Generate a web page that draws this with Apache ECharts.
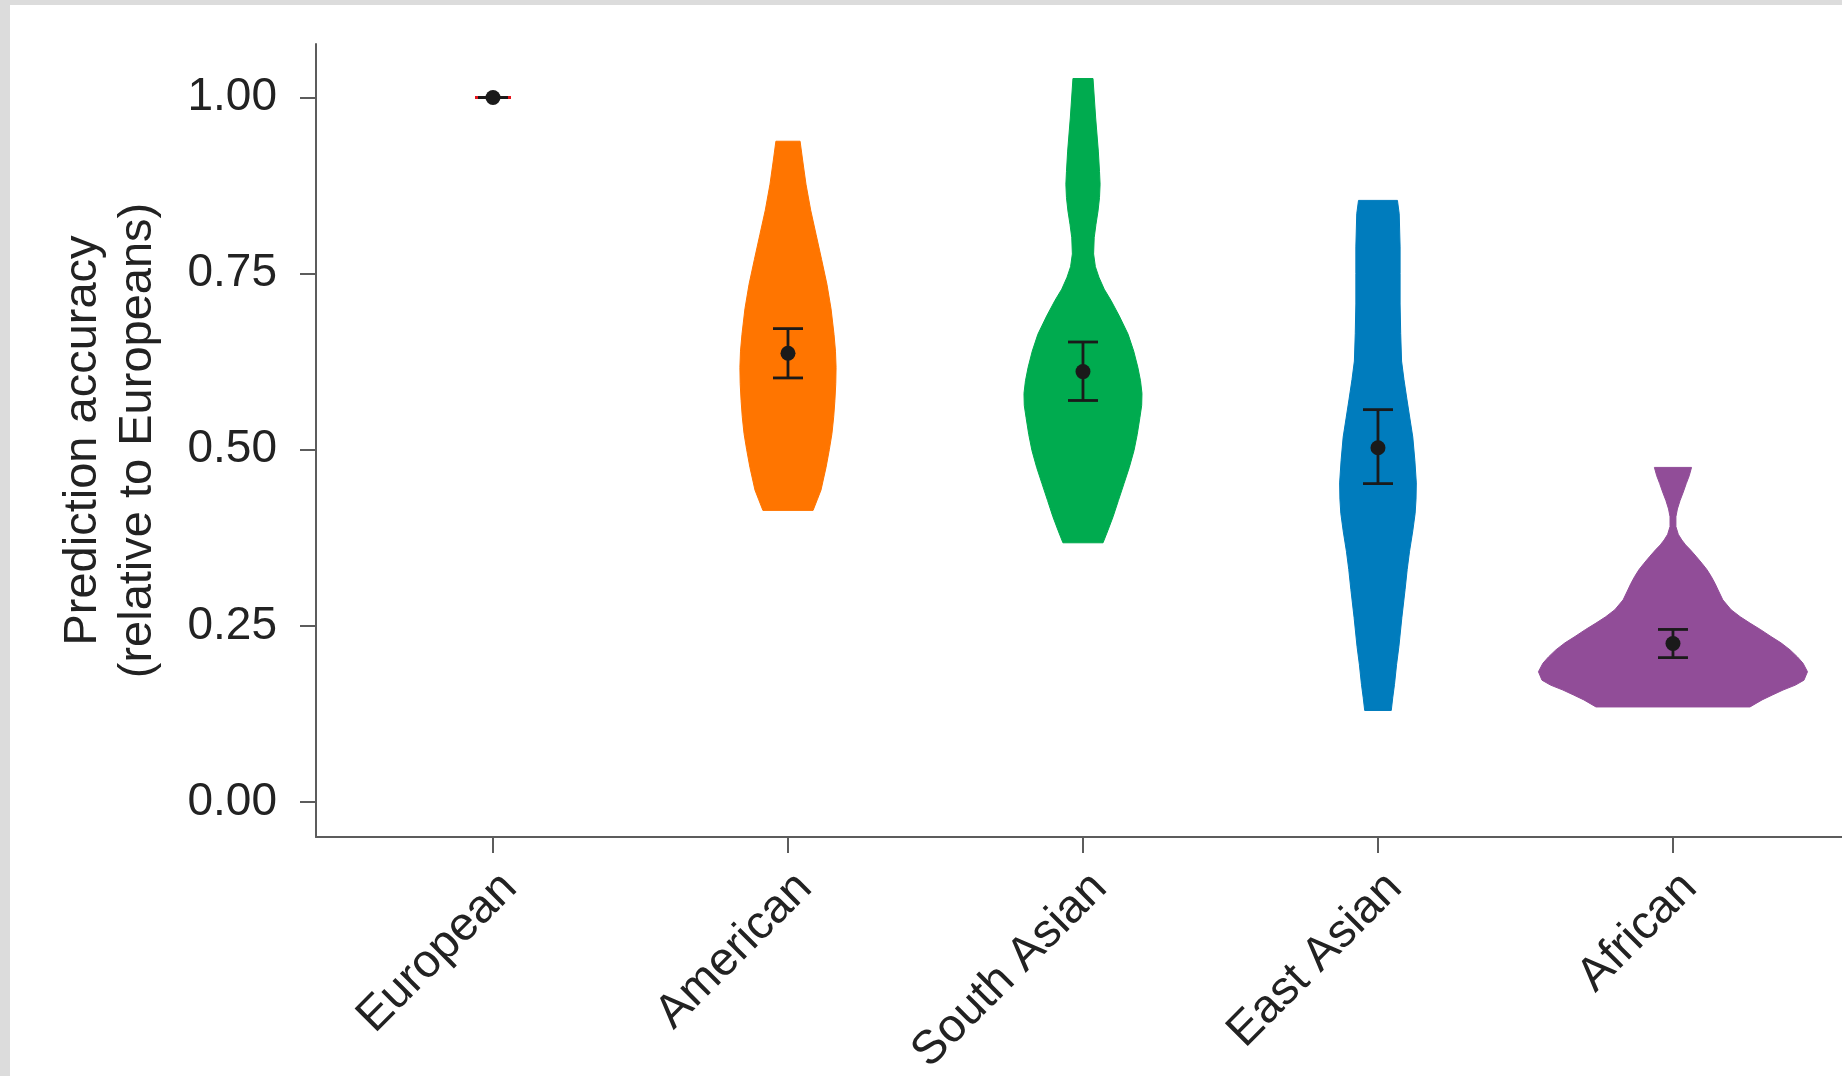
<!DOCTYPE html>
<html>
<head>
<meta charset="utf-8">
<script src="https://cdn.jsdelivr.net/npm/echarts@6/dist/echarts.min.js"></script>
<style>
  html, body { margin: 0; padding: 0; width: 1842px; height: 1076px; overflow: hidden; background: #dcdcdc; }
  #chart { position: absolute; left: 10px; top: 5px; width: 1832px; height: 1071px; background: #ffffff; }
</style>
</head>
<body>
<div id="chart"></div>
<script>
// Ancestry groups, left to right
const categories = ['European', 'American', 'South Asian', 'East Asian', 'African'];

// Mean prediction accuracy relative to Europeans, with interval bounds
const meanAccuracy = [1.000, 0.637, 0.611, 0.503, 0.225];
const lowerBound   = [1.000, 0.602, 0.570, 0.452, 0.205];
const upperBound   = [1.000, 0.672, 0.653, 0.557, 0.245];

// Y-axis tick values
const yTicks = [0, 0.25, 0.5, 0.75, 1.0];

// Violin outlines: [accuracy, half-width of the density in category units]
const violinEuropean = [[1.000, 0.061]];
const violinAmerican = [
  [0.938, 0.041], [0.910, 0.050], [0.877, 0.061], [0.840, 0.077], [0.806, 0.095],
  [0.770, 0.114], [0.735, 0.132], [0.700, 0.146], [0.664, 0.156], [0.640, 0.161],
  [0.617, 0.163], [0.594, 0.162], [0.570, 0.159], [0.547, 0.155], [0.523, 0.149],
  [0.500, 0.140], [0.475, 0.129], [0.460, 0.121], [0.443, 0.112], [0.430, 0.100],
  [0.414, 0.085]
];
const violinSouthAsian = [
  [1.027, 0.034], [0.971, 0.043], [0.924, 0.052], [0.895, 0.056], [0.877, 0.058],
  [0.858, 0.056], [0.839, 0.051], [0.820, 0.044], [0.801, 0.038], [0.778, 0.036],
  [0.760, 0.042], [0.745, 0.054], [0.728, 0.072], [0.712, 0.095], [0.690, 0.123],
  [0.664, 0.153], [0.640, 0.172], [0.617, 0.186], [0.598, 0.195], [0.580, 0.200],
  [0.563, 0.199], [0.546, 0.193], [0.522, 0.184], [0.499, 0.173], [0.475, 0.157],
  [0.452, 0.139], [0.428, 0.120], [0.405, 0.102], [0.385, 0.084], [0.368, 0.068]
];
const violinEastAsian = [
  [0.854, 0.066], [0.835, 0.072], [0.788, 0.075], [0.750, 0.075], [0.707, 0.075],
  [0.665, 0.077], [0.626, 0.080], [0.600, 0.088], [0.572, 0.098], [0.545, 0.108],
  [0.518, 0.118], [0.485, 0.125], [0.453, 0.130], [0.430, 0.129], [0.410, 0.126],
  [0.385, 0.118], [0.356, 0.107], [0.330, 0.099], [0.302, 0.092], [0.262, 0.081],
  [0.221, 0.071], [0.195, 0.063], [0.167, 0.056], [0.148, 0.050], [0.130, 0.045]
];
const violinAfrican = [
  [0.475, 0.063], [0.463, 0.055], [0.452, 0.045], [0.440, 0.035], [0.428, 0.024],
  [0.416, 0.015], [0.405, 0.010], [0.391, 0.010], [0.380, 0.018], [0.372, 0.030],
  [0.365, 0.043], [0.358, 0.059], [0.349, 0.078], [0.339, 0.098], [0.330, 0.115],
  [0.320, 0.130], [0.310, 0.143], [0.301, 0.153], [0.287, 0.169], [0.273, 0.197],
  [0.263, 0.228], [0.254, 0.261], [0.245, 0.296], [0.235, 0.332], [0.226, 0.366],
  [0.216, 0.397], [0.206, 0.422], [0.197, 0.441], [0.185, 0.456], [0.173, 0.444],
  [0.166, 0.415], [0.159, 0.373], [0.152, 0.337], [0.145, 0.302], [0.135, 0.261]
];
const violinProfiles = [violinEuropean, violinAmerican, violinSouthAsian, violinEastAsian, violinAfrican];
const violinColors = ['#e5141b', '#ff7500', '#00ab4f', '#007cbd', '#914d98'];

const FONT = '"Liberation Sans", Arial, Helvetica, sans-serif';
const AXIS_COLOR = '#5c5c5c';
const TEXT_COLOR = '#222222';

const chart = echarts.init(document.getElementById('chart'), null, { renderer: 'canvas' });

const option = {
  backgroundColor: '#ffffff',
  animation: false,
  grid: { left: 306, top: 39, right: 0, bottom: 239, containLabel: false, outerBoundsMode: 'none' },
  xAxis: {
    type: 'value',
    min: 0.4,
    max: 5.573,
    splitLine: { show: false },
    axisLine: { show: true, onZero: false, lineStyle: { color: AXIS_COLOR, width: 2 } },
    axisTick: { show: true, customValues: [1, 2, 3, 4, 5], length: 16, lineStyle: { color: AXIS_COLOR, width: 2 } },
    axisLabel: {
      customValues: [1, 2, 3, 4, 5],
      formatter: v => categories[Math.round(v) - 1],
      rotate: 45,
      align: 'right',
      verticalAlign: 'top',
      margin: 27,
      fontSize: 47,
      fontFamily: FONT,
      color: TEXT_COLOR
    }
  },
  yAxis: {
    type: 'value',
    min: -0.0496,
    max: 1.076,
    splitLine: { show: false },
    axisLine: { show: true, onZero: false, lineStyle: { color: AXIS_COLOR, width: 2 } },
    axisTick: { show: true, customValues: yTicks, length: 16, lineStyle: { color: AXIS_COLOR, width: 2 } },
    axisLabel: {
      customValues: yTicks,
      formatter: v => v.toFixed(2),
      margin: 39,
      fontSize: 46,
      fontFamily: FONT,
      color: TEXT_COLOR
    },
    name: 'Prediction accuracy\n(relative to Europeans)',
    nameLocation: 'middle',
    nameRotate: 90,
    nameGap: 150,
    nameTextStyle: { fontSize: 47, lineHeight: 55, fontFamily: FONT, color: TEXT_COLOR }
  },
  series: [
    {
      // violin bodies
      type: 'custom',
      clip: false,
      data: categories.map((c, i) => [i + 1, meanAccuracy[i]]),
      encode: { x: 0, y: 1 },
      renderItem: function (params, api) {
        const i = params.dataIndex;
        const xc = api.value(0);
        const prof = violinProfiles[i];
        const right = prof.map(([v, w]) => api.coord([xc + w, v]));
        const left = prof.slice().reverse().map(([v, w]) => api.coord([xc - w, v]));
        return {
          type: 'polygon',
          shape: { points: right.concat(left) },
          style: { fill: violinColors[i], stroke: violinColors[i], lineWidth: i === 0 ? 3 : 1 }
        };
      }
    },
    {
      // mean with interval bars
      type: 'custom',
      clip: false,
      data: categories.map((c, i) => [i + 1, meanAccuracy[i], lowerBound[i], upperBound[i]]),
      encode: { x: 0, y: 1 },
      renderItem: function (params, api) {
        const x = api.value(0);
        const mid = api.coord([x, api.value(1)]);
        const lo = api.coord([x, api.value(2)]);
        const hi = api.coord([x, api.value(3)]);
        const cap = 15;
        const line = { stroke: '#1a1a1a', lineWidth: 2.8 };
        return {
          type: 'group',
          children: [
            { type: 'line', shape: { x1: lo[0], y1: lo[1], x2: hi[0], y2: hi[1] }, style: line },
            { type: 'line', shape: { x1: lo[0] - cap, y1: lo[1], x2: lo[0] + cap, y2: lo[1] }, style: line },
            { type: 'line', shape: { x1: hi[0] - cap, y1: hi[1], x2: hi[0] + cap, y2: hi[1] }, style: line },
            { type: 'circle', shape: { cx: mid[0], cy: mid[1], r: 7.5 }, style: { fill: '#1a1a1a' } }
          ]
        };
      }
    }
  ]
};

chart.setOption(option);
</script>
</body>
</html>
